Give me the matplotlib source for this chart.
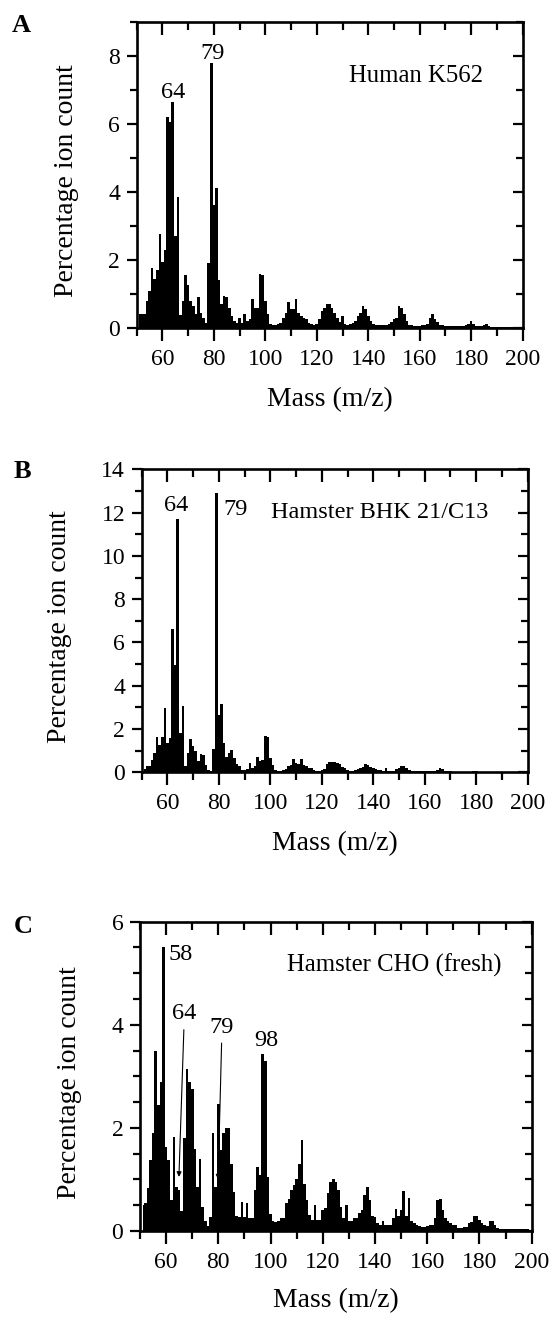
import numpy as np
import matplotlib.pyplot as plt
from matplotlib.ticker import MultipleLocator

plt.rcParams['font.family'] = ['Liberation Serif', 'DejaVu Serif']

# m/z channels (one bar per integer mass)
mz = list(range(51, 200))

# percentage ion count, panel A (Human K562)
human_k562 = [
    0.4, 0.4, 0.42, 0.8, 1.1, 1.75, 1.45, 1.7, 2.75, 1.95,
    2.3, 6.2, 6.05, 6.65, 2.7, 3.85, 0.37, 0.8, 1.55, 1.25,
    0.8, 0.65, 0.4, 0.9, 0.45, 0.3, 0.15, 1.9, 7.8, 3.6,
    4.1, 1.4, 0.7, 0.95, 0.9, 0.6, 0.35, 0.2, 0.15, 0.3,
    0.15, 0.4, 0.2, 0.25, 0.85, 0.6, 0.6, 1.6, 1.55, 0.8,
    0.4, 0.12, 0.1, 0.1, 0.12, 0.15, 0.3, 0.45, 0.75, 0.55,
    0.55, 0.85, 0.45, 0.35, 0.3, 0.25, 0.15, 0.12, 0.1, 0.12,
    0.25, 0.5, 0.6, 0.7, 0.7, 0.6, 0.45, 0.3, 0.18, 0.35,
    0.12, 0.1, 0.12, 0.15, 0.2, 0.35, 0.45, 0.65, 0.55, 0.35,
    0.2, 0.12, 0.1, 0.08, 0.08, 0.08, 0.1, 0.12, 0.18, 0.25,
    0.3, 0.65, 0.6, 0.42, 0.22, 0.1, 0.08, 0.06, 0.06, 0.06,
    0.08, 0.1, 0.12, 0.3, 0.4, 0.27, 0.18, 0.1, 0.1, 0.06,
    0.05, 0.05, 0.05, 0.05, 0.05, 0.06, 0.06, 0.08, 0.12, 0.2,
    0.12, 0.06, 0.05, 0.05, 0.08, 0.12, 0.06, 0.04, 0.04, 0.04,
    0.04, 0.04, 0.03, 0.04, 0.03, 0.03, 0.03, 0.03, 0.03,
]

# panel B (Hamster BHK 21/C13)
hamster_bhk = [
    0.15, 0.27, 0.3, 0.57, 0.88, 1.65, 1.25, 1.65, 2.95, 1.35,
    1.57, 6.6, 4.95, 11.7, 1.8, 3.07, 0.27, 0.88, 1.55, 1.2,
    1.0, 0.5, 0.85, 0.8, 0.35, 0.1, 0.05, 1.1, 12.9, 2.65,
    3.15, 1.35, 0.72, 0.9, 1.05, 0.65, 0.4, 0.3, 0.1, 0.1,
    0.15, 0.42, 0.18, 0.3, 0.72, 0.5, 0.55, 1.7, 1.65, 0.65,
    0.35, 0.1, 0.08, 0.08, 0.1, 0.15, 0.3, 0.35, 0.6, 0.45,
    0.4, 0.6, 0.35, 0.3, 0.2, 0.2, 0.1, 0.08, 0.08, 0.1,
    0.15, 0.4, 0.48, 0.48, 0.48, 0.45, 0.4, 0.25, 0.2, 0.1,
    0.08, 0.08, 0.1, 0.15, 0.2, 0.25, 0.38, 0.35, 0.25, 0.2,
    0.15, 0.1, 0.1, 0.08, 0.2, 0.08, 0.08, 0.08, 0.15, 0.2,
    0.3, 0.3, 0.2, 0.1, 0.08, 0.08, 0.06, 0.05, 0.05, 0.05,
    0.05, 0.05, 0.05, 0.06, 0.1, 0.2, 0.15, 0.06, 0.04, 0.04,
    0.03, 0.03, 0.03, 0.03, 0.03, 0.03, 0.03, 0.03, 0.04, 0.05,
    0.03, 0.03, 0.03, 0.03, 0.03, 0.03, 0.03, 0.03, 0.03, 0.03,
    0.02, 0.02, 0.02, 0.02, 0.02, 0.02, 0.02, 0.02, 0.02,
]

# panel C (Hamster CHO, fresh)
hamster_cho = [
    0.5, 0.55, 0.83, 1.38, 1.9, 3.5, 2.45, 2.9, 5.5, 1.63,
    1.37, 0.6, 1.83, 0.86, 0.8, 0.38, 1.8, 3.15, 2.9, 2.75,
    1.6, 0.86, 1.4, 0.47, 0.2, 0.1, 0.28, 1.9, 0.85, 2.47,
    1.57, 1.9, 2.0, 2.0, 1.3, 0.75, 0.3, 0.28, 0.57, 0.28,
    0.54, 0.25, 0.25, 0.8, 1.25, 1.08, 3.44, 3.3, 1.05, 0.34,
    0.2, 0.18, 0.2, 0.25, 0.25, 0.54, 0.63, 0.8, 0.9, 1.0,
    1.3, 1.76, 0.92, 0.6, 0.31, 0.21, 0.5, 0.21, 0.21, 0.4,
    0.45, 0.73, 0.95, 1.0, 0.95, 0.8, 0.47, 0.25, 0.5, 0.2,
    0.2, 0.25, 0.25, 0.35, 0.4, 0.7, 0.86, 0.6, 0.3, 0.28,
    0.15, 0.12, 0.2, 0.12, 0.12, 0.12, 0.25, 0.42, 0.3, 0.4,
    0.78, 0.3, 0.65, 0.2, 0.15, 0.12, 0.1, 0.08, 0.08, 0.1,
    0.12, 0.12, 0.25, 0.6, 0.63, 0.4, 0.25, 0.2, 0.15, 0.12,
    0.12, 0.05, 0.05, 0.08, 0.08, 0.15, 0.18, 0.3, 0.3, 0.22,
    0.15, 0.12, 0.1, 0.2, 0.2, 0.12, 0.05, 0.04, 0.04, 0.04,
    0.04, 0.04, 0.04, 0.03, 0.03, 0.03, 0.03, 0.03, 0.03,
]

fig = plt.figure(figsize=(5.51, 13.22), dpi=100)


def spectrum_axes(rect, values, ymax, yminor):
    ax = fig.add_axes(rect)
    # filled histogram, one step per mass channel
    ax.fill_between(mz, values, step='mid', color='black', linewidth=0)
    ax.set_xlim(50, 200)
    ax.set_ylim(0, ymax)
    ax.xaxis.set_major_locator(MultipleLocator(20))
    ax.xaxis.set_minor_locator(MultipleLocator(10))
    ax.yaxis.set_major_locator(MultipleLocator(2))
    ax.yaxis.set_minor_locator(MultipleLocator(yminor))
    for s in ax.spines.values():
        s.set_linewidth(1.9)
    ax.tick_params(axis='both', which='both', top=True, right=True, width=1.6,
                   labelsize=17)
    ax.tick_params(axis='x', which='major', length=9, pad=6)
    ax.tick_params(axis='x', which='minor', length=6)
    ax.tick_params(axis='y', which='major', length=7, pad=5)
    ax.tick_params(axis='y', which='minor', length=5)
    ax.xaxis.set_tick_params(which='both', direction='out')
    ax.yaxis.set_tick_params(which='both', direction='out')
    # top and right ticks point inwards
    for t in ax.xaxis.get_major_ticks() + ax.xaxis.get_minor_ticks():
        t.tick2line.set_marker(3)
    for t in ax.yaxis.get_major_ticks() + ax.yaxis.get_minor_ticks():
        t.tick2line.set_marker(0)
    ax.set_xlabel('Mass (m/z)', fontsize=20, va='center')
    ax.set_ylabel('Percentage ion count', fontsize=20, va='center')
    ax.xaxis.set_label_coords(0.5, -0.235)
    return ax


# Panel A
axA = spectrum_axes([0.248, 0.7519, 0.7005, 0.2317], human_k562, 9, 1)
axA.yaxis.set_label_coords(-0.183, 0.48)
axA.text(64.2, 6.76, '64', ha='center', va='baseline', fontsize=17.5)
axA.text(79.4, 7.9, '79', ha='center', va='baseline', fontsize=17.5)
axA.text(132.7, 7.23, 'Human K562', ha='left', va='baseline', fontsize=17.8)

# Panel B
axB = spectrum_axes([0.2572, 0.4158, 0.7005, 0.2292], hamster_bhk, 14, 1)
axB.yaxis.set_label_coords(-0.212, 0.48)
axB.text(63.4, 12.06, '64', ha='center', va='baseline', fontsize=17.5)
axB.text(81.9, 11.9, '79', ha='left', va='baseline', fontsize=17.5)
axB.text(100.3, 11.75, 'Hamster BHK 21/C13', ha='left', va='baseline', fontsize=17.5)

# Panel C
axC = spectrum_axes([0.2541, 0.0688, 0.7109, 0.234], hamster_cho, 6, 0.5)
axC.yaxis.set_label_coords(-0.181, 0.48)
axC.xaxis.set_label_coords(0.5, -0.225)
axC.text(60.8, 5.25, '58', ha='left', va='baseline', fontsize=17.5)
axC.text(98.3, 3.58, '98', ha='center', va='baseline', fontsize=17.5)
axC.annotate('64', xy=(64.9, 1.05), xytext=(67.0, 4.11), ha='center', va='baseline',
             fontsize=17.5,
             arrowprops=dict(arrowstyle='-|>', lw=0.8, color='black',
                             mutation_scale=7, shrinkA=2, shrinkB=0))
axC.annotate('79', xy=(79.9, 1.0), xytext=(81.4, 3.85), ha='center', va='baseline',
             fontsize=17.5,
             arrowprops=dict(arrowstyle='-|>', lw=0.8, color='black',
                             mutation_scale=7, shrinkA=2, shrinkB=0))
axC.text(106.2, 5.03, 'Hamster CHO (fresh)', ha='left', va='baseline', fontsize=17.8)

# panel letters
fig.text(0.022, 0.976, 'A', fontsize=19, fontweight='bold')
fig.text(0.025, 0.6384, 'B', fontsize=19, fontweight='bold')
fig.text(0.025, 0.294, 'C', fontsize=19, fontweight='bold')

fig.savefig('out.png', dpi=100, facecolor='white')
